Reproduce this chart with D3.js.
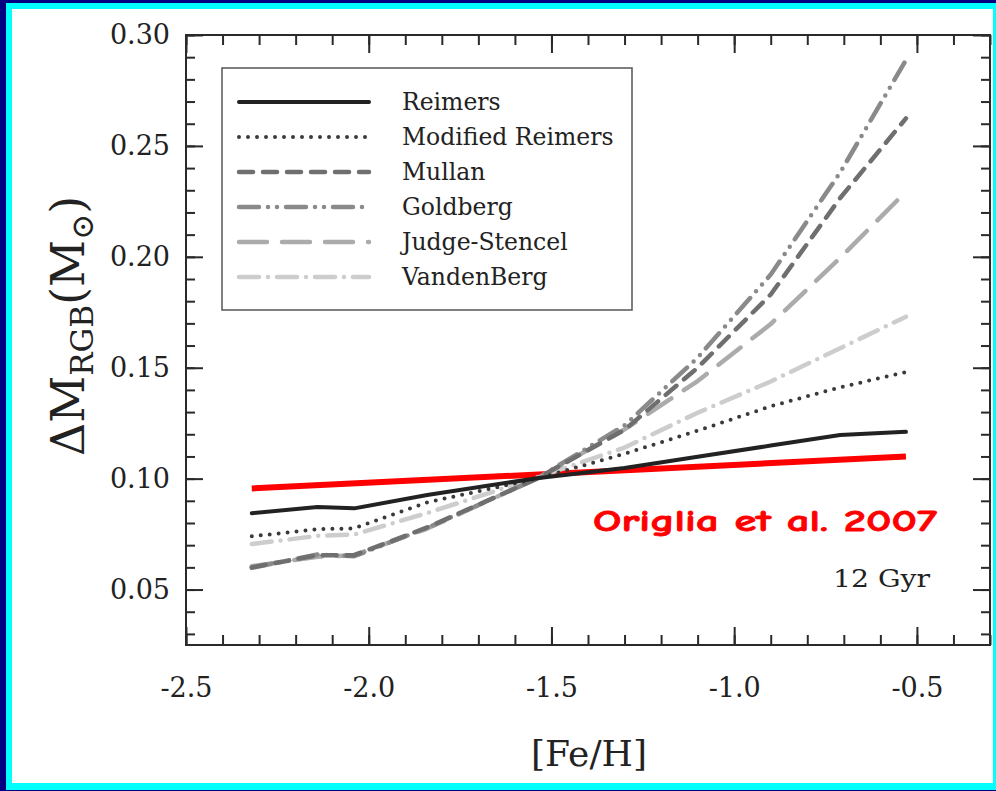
<!DOCTYPE html>
<html>
<head>
<meta charset="utf-8">
<script src="https://cdn.jsdelivr.net/npm/d3@7"></script>
<style>
  html, body { margin: 0; padding: 0; background: #000080; }
  svg { display: block; }
</style>
</head>
<body>
<svg id="chart" width="996" height="791"></svg>
<script>
// Metallicity grid of the RGB mass-loss models
const FEH = [-2.32, -2.14, -2.04, -1.84, -1.54, -1.30, -1.10, -0.90, -0.71, -0.53];

// Total mass lost on the RGB (solar masses) for each mass-loss law
const reimers      = [0.0844, 0.0872, 0.0866, 0.0926, 0.1002, 0.1048, 0.1099, 0.1149, 0.1197, 0.1211];
const modReimers   = [0.0740, 0.0772, 0.0776, 0.0893, 0.1000, 0.1112, 0.1216, 0.1326, 0.1412, 0.1480];
const mullan       = [0.0600, 0.0655, 0.0655, 0.0780, 0.1000, 0.1220, 0.1500, 0.1830, 0.2265, 0.2624];
const goldberg     = [0.0598, 0.0658, 0.0650, 0.0778, 0.1000, 0.1240, 0.1545, 0.1920, 0.2380, 0.2887];
const judgeStencel = [0.0605, 0.0648, 0.0655, 0.0775, 0.1000, 0.1222, 0.1440, 0.1697, 0.1995, 0.2294];
const vandenBerg   = [0.0705, 0.0742, 0.0748, 0.0845, 0.1005, 0.1140, 0.1297, 0.1438, 0.1588, 0.1730];

const seriesNames = ["Reimers", "Modified Reimers", "Mullan", "Goldberg", "Judge-Stencel", "VandenBerg"];
const seriesValues = [reimers, modReimers, mullan, goldberg, judgeStencel, vandenBerg];

// Origlia et al. (2007) empirical relation, end points
const origliaFeH = [-2.32, -0.53];
const origliaDM  = [0.0956, 0.1100];

// Axis ticks
const xMajorTicks = [-2.5, -2.0, -1.5, -1.0, -0.5];
const xTickLabels = ["-2.5", "-2.0", "-1.5", "-1.0", "-0.5"];
const yMajorTicks = [0.05, 0.10, 0.15, 0.20, 0.25, 0.30];
const yTickLabels = ["0.05", "0.10", "0.15", "0.20", "0.25", "0.30"];

// Line styles for each law
const styles = [
  { color: "#222222", width: 4,   dash: null,           cap: "round" },
  { color: "#3a3a3a", width: 4,   dash: "0,9",          cap: "round" },
  { color: "#6f6f6f", width: 4.5, dash: "14,10",        cap: "round" },
  { color: "#8a8a8a", width: 4.5, dash: "20,9,0,9,0,9", cap: "round" },
  { color: "#ababab", width: 4.5, dash: "28,15",        cap: "round" },
  { color: "#cdcdcd", width: 4.5, dash: "20,9,0,9",     cap: "round" }
];

const svg = d3.select("#chart");
const W = 996, H = 791;

// Slide frame
svg.append("rect").attr("x", 0).attr("y", 0).attr("width", W).attr("height", H).attr("fill", "#000080");
svg.append("rect").attr("x", 6).attr("y", 3).attr("width", W - 6).attr("height", 787).attr("fill", "#00ffff");
svg.append("rect").attr("x", 12).attr("y", 9).attr("width", 981).attr("height", 774).attr("fill", "#ffffff");

const x = d3.scaleLinear().domain([-2.5, -0.3]).range([186, 990]);
const y = d3.scaleLinear().domain([0.025, 0.30]).range([645, 35]);

const serif = "'DejaVu Serif', 'Liberation Serif', serif";
const axisColor = "#2a2a2a";

const xMinor = d3.range(-2.5, -0.29, 0.1).map(v => +v.toFixed(2));
const yMinor = d3.range(0.03, 0.3001, 0.01).map(v => +v.toFixed(3));

function styleAxis(g) {
  g.select(".domain").remove();
  g.selectAll(".tick line").attr("stroke", axisColor).attr("stroke-width", 2);
  g.selectAll("text").attr("font-family", serif).attr("font-size", 27).attr("fill", "#222");
}

const xLabel = d => xTickLabels[xMajorTicks.indexOf(d)];
const yLabel = d => yTickLabels[yMajorTicks.indexOf(d)];

// Bottom
svg.append("g").attr("transform", `translate(0,${y.range()[0]})`)
  .call(d3.axisBottom(x).tickValues(xMinor).tickSize(-10).tickFormat(""))
  .call(styleAxis);
svg.append("g").attr("transform", `translate(0,${y.range()[0]})`)
  .call(d3.axisBottom(x).tickValues(xMajorTicks).tickSize(-18).tickPadding(33).tickFormat(xLabel))
  .call(styleAxis);
// Top
svg.append("g").attr("transform", `translate(0,${y.range()[1]})`)
  .call(d3.axisTop(x).tickValues(xMinor).tickSize(-10).tickFormat(""))
  .call(styleAxis);
svg.append("g").attr("transform", `translate(0,${y.range()[1]})`)
  .call(d3.axisTop(x).tickValues(xMajorTicks).tickSize(-18).tickFormat(""))
  .call(styleAxis);
// Left
svg.append("g").attr("transform", `translate(${x.range()[0]},0)`)
  .call(d3.axisLeft(y).tickValues(yMinor).tickSize(-9).tickFormat(""))
  .call(styleAxis);
svg.append("g").attr("transform", `translate(${x.range()[0]},0)`)
  .call(d3.axisLeft(y).tickValues(yMajorTicks).tickSize(-17).tickPadding(16).tickFormat(yLabel))
  .call(styleAxis);
// Right
svg.append("g").attr("transform", `translate(${x.range()[1]},0)`)
  .call(d3.axisRight(y).tickValues(yMinor).tickSize(-9).tickFormat(""))
  .call(styleAxis);
svg.append("g").attr("transform", `translate(${x.range()[1]},0)`)
  .call(d3.axisRight(y).tickValues(yMajorTicks).tickSize(-17).tickFormat(""))
  .call(styleAxis);

// Plot frame
svg.append("rect")
  .attr("x", x.range()[0]).attr("y", y.range()[1])
  .attr("width", x.range()[1] - x.range()[0]).attr("height", y.range()[0] - y.range()[1])
  .attr("fill", "none").attr("stroke", axisColor).attr("stroke-width", 2);

// Red relation underneath the model curves
const redLine = d3.line().x(d => x(d[0])).y(d => y(d[1]));
svg.append("path")
  .datum(origliaFeH.map((f, i) => [f, origliaDM[i]]))
  .attr("d", redLine)
  .attr("fill", "none").attr("stroke", "#ff0000").attr("stroke-width", 6);

// Model curves, lightest drawn first
const line = d3.line().x(d => x(d[0])).y(d => y(d[1]));
const order = [5, 4, 3, 2, 1, 0];
order.forEach(i => {
  const s = styles[i];
  svg.append("path")
    .datum(FEH.map((f, j) => [f, seriesValues[i][j]]))
    .attr("d", line)
    .attr("fill", "none")
    .attr("stroke", s.color)
    .attr("stroke-width", s.width)
    .attr("stroke-linecap", s.cap)
    .attr("stroke-linejoin", "round")
    .attr("stroke-dasharray", s.dash);
});

// Legend
const legend = svg.append("g");
legend.append("rect").attr("x", 222).attr("y", 68).attr("width", 410).attr("height", 242)
  .attr("fill", "#fff").attr("stroke", "#555").attr("stroke-width", 1.5);
const rowY = d3.scalePoint().domain(seriesNames).range([102, 277]);
seriesNames.forEach((name, i) => {
  const s = styles[i];
  const yy = rowY(name);
  legend.append("line").attr("x1", 239).attr("x2", 369).attr("y1", yy).attr("y2", yy)
    .attr("stroke", s.color).attr("stroke-width", s.width)
    .attr("stroke-linecap", s.cap).attr("stroke-dasharray", s.dash);
  legend.append("text").attr("x", 402).attr("y", yy).attr("dy", "0.36em")
    .attr("font-family", serif).attr("font-size", 23.5).attr("fill", "#222").text(name);
});

// Annotations
svg.append("text").attr("x", 593).attr("y", 531)
  .attr("font-family", "'Comic Sans MS', 'Comic Neue', 'DejaVu Sans', sans-serif")
  .attr("font-weight", "bold").attr("font-size", 31).attr("fill", "#ff0000")
  .attr("stroke", "#ff0000").attr("stroke-width", 0.8)
  .attr("textLength", 344).attr("lengthAdjust", "spacingAndGlyphs")
  .text("Origlia et al. 2007");

svg.append("text").attr("x", 833).attr("y", 587)
  .attr("font-family", serif).attr("font-size", 25).attr("fill", "#222")
  .attr("textLength", 97).attr("lengthAdjust", "spacingAndGlyphs")
  .text("12 Gyr");

// Axis titles
svg.append("text").attr("x", 589).attr("y", 766).attr("text-anchor", "middle")
  .attr("font-family", serif).attr("font-size", 36).attr("fill", "#222")
  .text("[Fe/H]");

const yTitle = svg.append("text")
  .attr("transform", "translate(84,326) rotate(-90)")
  .attr("text-anchor", "middle")
  .attr("font-family", serif).attr("font-size", 46).attr("fill", "#222");
yTitle.append("tspan").text("ΔM");
yTitle.append("tspan").attr("font-size", 31).attr("dy", 9).text("RGB");
yTitle.append("tspan").attr("dy", -9).text("(M");
yTitle.append("tspan").attr("font-size", 31).attr("dy", 9).text("⊙");
yTitle.append("tspan").attr("dy", -9).text(")");
</script>
</body>
</html>
